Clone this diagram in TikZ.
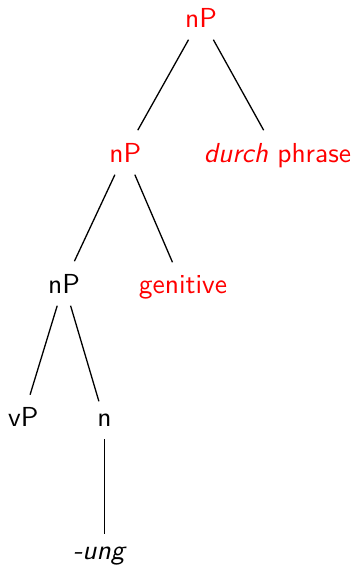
\documentclass[tikz,border=0pt]{standalone}
\usepackage{graphicx}
\newcommand{\bigtxt}[1]{\scalebox{2.75}{\sffamily #1}}
\tikzset{
  lab/.style={anchor=base, inner xsep=2pt, inner ysep=12.5pt, font=\sffamily},
  edge/.style={line width=1.3pt, black}
}
\begin{document}
\begin{tikzpicture}[x=1pt,y=-1pt]
\useasboundingbox (0,0) rectangle (358,565);
\node[lab,red] (root) at (201,27) {\bigtxt{nP}};
\node[lab,red] (np2) at (125.3,162) {\bigtxt{nP}};
\node[lab,red] (durch) at (277.5,162) {\bigtxt{\itshape durch\upshape\ phrase}};
\node[lab] (np3) at (64,293) {\bigtxt{nP}};
\node[lab,red] (gen) at (183,293) {\bigtxt{genitive}};
\node[lab] (vp) at (23.3,426.5) {\bigtxt{vP}};
\node[lab] (n) at (104.5,426.5) {\bigtxt{n}};
\node[lab] (ung) at (99,559) {\bigtxt{\itshape -ung}};
\draw[edge] (root) -- (np2);
\draw[edge] (root) -- (durch);
\draw[edge] (np2) -- (np3);
\draw[edge] (np2) -- (gen);
\draw[edge] (np3) -- (vp);
\draw[edge] (np3) -- (n);
\draw[edge] (n) -- (n |- ung.north);
\end{tikzpicture}
\end{document}
